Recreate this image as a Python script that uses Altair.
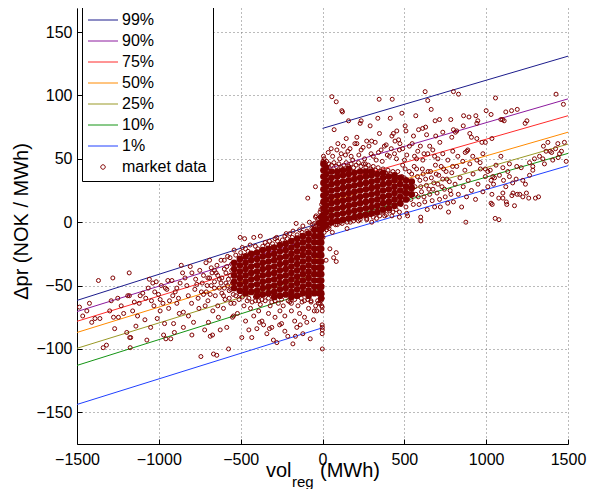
import altair as alt
import pandas as pd

FONT = "Liberation Sans"

# ---------------- quantile regression lines ----------------
quantiles = ["99%", "90%", "75%", "50%", "25%", "10%", "1%"]
line_colors = ["#1c1c8c", "#8c1a9e", "#ff2a2a", "#ff8a00", "#999926", "#149414", "#2040ff"]
left_start = [-61.7, -70.5, -78.2, -87.0, -99.5, -113.0, -143.8]   # at vol = -1500
left_end = [0.0, -10.5, -18.5, -27.0, -39.5, -52.0, -83.3]         # at vol = 0-
right_start = [74.0, 41.0, 28.5, 15.0, 6.0, -2.0, -12.0]           # at vol = 0+
right_end = [131.0, 97.3, 84.0, 71.0, 61.6, 54.3, 44.6]            # at vol = 1500

# ---------------- market data ----------------
left_tail = [(-1485, -67), (-1465, -74), (-1440, -70), (-1424, -64), (-1410, -79), (-1390, -76),
             (-1369, -46), (-1360, -76), (-1340, -99), (-1320, -97), (-1300, -70), (-1291, -62),
             (-1281, -44), (-1277, -75), (-1270, -84), (-1251, -60), (-1247, -75), (-1230, -66),
             (-1215, -72), (-1196, -87), (-1190, -58), (-1181, -40), (-1180, -58), (-1178, -91),
             (-1175, -99), (-1172, -91), (-1160, -70), (-1150, -63), (-1140, -82), (-1130, -74),
             (-1120, -64), (-1114, -58), (-1098, -56), (-1085, -77), (-1080, -60), (-1073, -93),
             (-1065, -52), (-1058, -45), (-1050, -83), (-1045, -62), (-1037, -48), (-1030, -66),
             (-1025, -55), (-1016, -47), (-1010, -76), (-1002, -57), (-992, -61), (-992, -70),
             (-985, -50), (-975, -64), (-971, -89), (-965, -80), (-960, -52), (-957, -92),
             (-951, -53), (-945, -46), (-940, -68), (-935, -62), (-927, -92), (-920, -46),
             (-915, -58), (-910, -80), (-905, -87), (-900, -55), (-890, -52), (-890, -64),
             (-880, -60), (-875, -72), (-870, -48), (-863, -34), (-855, -40), (-850, -71), (-850, -83)]

left_mid = [(-840, -44), (-829, -50), (-820, -58), (-819, -74), (-808, -35), (-800, -64), (-798, -40),
            (-798, -89), (-788, -79), (-780, -53), (-775, -45), (-768, -49), (-760, -60), (-755, -68),
            (-750, -38), (-743, -106), (-740, -55), (-735, -48), (-727, -42), (-727, -57), (-720, -85),
            (-717, -66), (-712, -32), (-705, -50), (-700, -62), (-697, -79), (-690, -44), (-686, -57),
            (-686, -90), (-680, -36), (-672, -89), (-670, -70), (-666, -104), (-660, -47), (-655, -58),
            (-650, -40), (-646, -105), (-640, -66), (-636, -75), (-630, -52), (-625, -85), (-620, -30),
            (-615, -44), (-605, -68), (-605, -58), (-600, -37), (-595, -61), (-590, -48), (-585, -83),
            (-580, -27), (-574, -100), (-570, -54), (-565, -42), (-560, -64), (-555, -33), (-550, -75),
            (-544, -74), (-540, -22), (-503, -12), (-490, -20), (-476, -13), (-442, -18), (-420, -12),
            (-380, -11), (-324, -15), (-280, -12), (-222, -9), (-180, -7), (-161, -1), (-120, -3),
            (-90, 19), (-80, 0), (-60, -2), (-43, 28), (-43, 4), (-39, 5), (-30, 2), (-15, 8)]

left_fringe = [(-530, -26), (-500, -24), (-485, -27), (-470, -21), (-455, -23), (-425, -25),
               (-410, -19), (-395, -21), (-365, -19), (-350, -16), (-335, -18), (-305, -17),
               (-290, -13), (-275, -15), (-245, -14), (-230, -11), (-215, -13), (-200, -9),
               (-185, -12), (-155, -10), (-140, -6), (-125, -8), (-95, -7), (-65, -5), (-50, -1),
               (-35, -2), (-25, 3), (-10, 10), (-5, 14),
               (-530, -58), (-510, -61), (-490, -59), (-450, -60), (-430, -63), (-410, -59),
               (-390, -62), (-370, -61), (-330, -60), (-310, -63), (-290, -62), (-250, -61),
               (-210, -62), (-190, -64), (-170, -61), (-130, -60), (-110, -62), (-90, -61),
               (-70, -63), (-30, -62), (-15, -64), (-5, -66),
               (-690, -30), (-675, -40), (-660, -52), (-645, -34), (-630, -45), (-615, -56),
               (-600, -30), (-590, -40), (-580, -50), (-570, -60), (-565, -28), (-555, -38),
               (-550, -48), (-545, -57), (-620, -48), (-640, -42), (-660, -38), (-680, -50),
               (-700, -44), (-710, -55), (-600, -52), (-585, -35), (-575, -45), (-560, -53)]

left_low = [(-540, -64), (-520, -72), (-503, -57), (-493, -91), (-480, -66), (-470, -78), (-460, -62),
            (-450, -85), (-440, -68), (-432, -91), (-420, -74), (-410, -62), (-401, -84), (-390, -70),
            (-385, -79), (-380, -65), (-370, -78), (-360, -81), (-350, -62), (-340, -88), (-330, -72),
            (-324, -84), (-320, -66), (-310, -83), (-300, -93), (-290, -75), (-279, -95), (-270, -64),
            (-262, -81), (-260, -70), (-250, -80), (-240, -66), (-230, -86), (-230, -74), (-212, -90),
            (-200, -63), (-190, -70), (-181, -96), (-170, -78), (-165, -90), (-157, -83), (-150, -66),
            (-140, -72), (-136, -81), (-125, -63), (-120, -88), (-110, -75), (-96, -79), (-85, -68),
            (-75, -92), (-70, -62), (-55, -77), (-50, -70), (-42, -66), (-35, -70), (-25, -64),
            (-12, -62), (-4, -50), (-3, -57), (-3, -60), (-2, -67), (-2, -70), (-2, -81), (-1, -83),
            (-1, -85), (-2, -88), (-1, -100)]

right_near = [(3, -12), (10, -8), (25, -6), (40, -5), (22, -30), (45, -21), (68, -28), (84, -24),
              (84, -31), (3, 48), (6, 52), (15, 47), (40, -3), (60, -8), (80, -2), (120, -1),
              (150, -5), (170, 0), (220, 1), (270, 2), (301, 0), (330, 3), (380, 5), (424, 5),
              (470, 4), (515, 7), (601, 1), (876, 0)]

right_fringe = [(10, 50), (25, 48), (40, 46), (55, 45), (70, 47), (85, 44), (100, 46), (115, 43),
                (130, 45), (145, 47), (160, 44), (175, 46), (190, 43), (205, 45), (220, 47),
                (235, 44), (250, 46), (265, 43), (280, 45), (295, 42), (310, 44), (325, 41),
                (340, 43), (355, 40), (370, 42), (385, 39), (400, 41), (415, 38), (430, 40),
                (30, -4), (50, -1), (70, 1), (90, -2), (110, 0), (130, 2), (150, 0), (170, 3),
                (190, 1), (210, 4), (230, 2), (250, 5), (270, 3), (290, 6), (310, 4), (330, 7),
                (350, 5), (370, 8), (390, 6), (410, 9), (430, 8), (450, 10),
                (480, 14), (485, 36), (495, 24), (505, 42), (515, 18), (525, 31), (535, 22),
                (545, 38), (555, 14), (565, 28), (575, 42), (585, 20), (595, 33), (605, 24),
                (615, 38), (625, 16), (635, 29), (645, 40), (655, 22), (665, 35), (675, 26),
                (685, 12), (695, 38), (705, 30), (715, 18), (725, 44), (735, 34), (745, 26),
                (755, 40), (765, 15), (775, 32), (785, 22), (795, 44)]

right_upper = [(57, 99), (84, 95), (118, 88), (122, 87), (159, 80), (71, 73), (346, 97), (426, 97),
               (627, 103), (643, 96), (831, 101), (800, 103), (485, 86), (570, 84), (664, 89),
               (414, 82), (338, 82), (236, 80), (230, 78), (291, 76), (862, 84), (895, 83), (937, 84),
               (943, 78), (800, 73), (812, 71), (735, 71), (630, 75), (612, 74), (587, 73), (505, 76),
               (510, 72), (454, 72), (424, 68), (556, 68), (688, 80), (784, 81), (715, 81), (949, 80),
               (910, 67), (943, 66), (145, 66), (210, 67), (210, 62), (270, 64), (300, 64), (348, 70),
               (433, 70), (443, 64), (473, 62), (636, 69), (692, 68), (717, 63), (790, 67), (820, 72),
               (860, 76), (900, 70), (53, 58), (94, 62), (114, 54), (155, 56), (175, 52), (236, 57),
               (257, 50), (297, 54), (328, 49), (358, 57), (389, 61), (409, 52), (440, 54), (470, 57),
               (501, 49), (531, 60), (562, 52), (582, 56), (613, 49), (643, 54), (674, 57), (705, 50),
               (735, 54), (766, 49), (796, 56), (827, 52), (857, 48), (888, 57), (918, 52), (980, 54),
               (872, 55), (882, 56), (943, 49), (963, 47), (974, 63), (995, 63),
               (35, 55), (62, 52), (88, 57), (105, 50), (128, 60), (140, 53), (168, 58), (185, 49),
               (198, 62), (222, 53), (248, 59), (262, 46), (284, 60), (310, 52), (322, 63), (342, 55),
               (365, 48), (378, 60), (396, 53), (420, 58), (452, 50), (465, 65), (490, 58), (515, 53),
               (548, 62), (575, 50), (598, 60), (620, 54), (655, 60), (685, 52)]

right_mid = [(460, 40), (470, 30), (480, 20), (490, 45), (500, 35), (510, 12), (520, 25), (530, 40),
             (540, 18), (550, 32), (560, 44), (570, 22), (580, 36), (590, 14), (600, 28), (610, 42),
             (620, 20), (630, 34), (640, 10), (650, 26), (660, 40), (670, 17), (680, 31), (690, 45),
             (700, 23), (710, 37), (720, 12), (730, 28), (740, 42), (750, 20), (760, 34), (770, 8),
             (780, 25), (790, 39), (800, 16), (810, 30), (820, 44), (830, 22), (840, 35), (850, 12),
             (860, 28), (870, 41), (880, 20), (890, 33), (900, 46), (910, 25), (920, 38), (935, 18),
             (950, 30), (965, 42), (980, 24), (995, 36), (1010, 28), (470, 8), (520, 5), (600, 4)]

right_tail = [(1057, 98), (1000, 88), (1030, 85), (1120, 87), (1155, 88), (1190, 89), (1238, 78),
              (1100, 81), (1110, 80), (1427, 101), (1472, 93), (1249, 80), (1090, 81), (1035, 66),
              (995, 42), (1010, 40), (1025, 41), (1041, 36), (1045, 30), (1035, 22), (1030, 15),
              (1055, 3), (1078, 2), (1102, 19), (1126, 14), (1157, 21), (1173, 13), (1190, 22),
              (1224, 20), (1320, 20), (1037, 14), (1077, 19), (1102, 23), (1123, 16), (1164, 23),
              (1205, 22), (1246, 23), (1301, 19), (1377, 63), (1366, 56), (1391, 56), (1424, 58),
              (1438, 62), (1478, 63), (1326, 52), (1346, 50), (1295, 50), (1265, 47), (1285, 44),
              (1214, 43), (1187, 44), (1142, 46), (1132, 40), (1102, 43), (1081, 37), (1051, 35),
              (1030, 33), (1106, 33), (1142, 36), (1183, 34), (1224, 33), (1265, 37), (1162, 31),
              (1285, 41), (1356, 46), (1407, 49), (1448, 54), (1489, 48), (1260, 19), (1440, 51),
              (1460, 56), (1350, 60), (1400, 55), (1240, 30), (1120, 28), (1060, 45), (1090, 52)]

# dense cores: vol -> list of price differences (overlapping markers form a solid cloud)
core_left = {-540: [-32, -37, -42, -47, -52], -505: [-29, -34, -39, -44, -49, -54],
             -470: [-27, -32, -37, -42, -47, -52, -56], -435: [-25, -30, -35, -40, -45, -50, -55],
             -400: [-24, -29, -34, -39, -44, -49, -54, -58], -365: [-22, -27, -32, -37, -42, -47, -52, -57],
             -330: [-21, -26, -31, -36, -41, -46, -51, -56], -295: [-20, -25, -30, -35, -40, -45, -50, -55, -59],
             -260: [-18, -23, -28, -33, -38, -43, -48, -53, -58], -225: [-17, -22, -27, -32, -37, -42, -47, -52, -57],
             -190: [-15, -20, -25, -30, -35, -40, -45, -50, -55, -59],
             -155: [-13, -18, -23, -28, -33, -38, -43, -48, -53, -58],
             -120: [-11, -16, -21, -26, -31, -36, -41, -46, -51, -56],
             -85: [-9, -14, -19, -24, -29, -34, -39, -44, -49, -54, -58],
             -50: [-6, -11, -16, -21, -26, -31, -36, -41, -46, -51, -56],
             -20: [-1, -6, -11, -16, -21, -26, -31, -36, -41, -46, -51, -56],
             -8: [4, -1, -6, -11, -16, -21, -26, -31, -36, -41, -46, -51, -56, -60]}
core_right = {6: [-4, 1, 6, 11, 16, 21, 26, 31, 36, 41, 46], 22: [-2, 3, 8, 13, 18, 23, 28, 33, 38, 43],
              55: [0, 5, 10, 15, 20, 25, 30, 35, 40], 90: [1, 6, 11, 16, 21, 26, 31, 36, 40],
              125: [2, 7, 12, 17, 22, 27, 32, 37, 41], 160: [3, 8, 13, 18, 23, 28, 33, 38, 42],
              195: [4, 9, 14, 19, 24, 29, 34, 39], 230: [5, 10, 15, 20, 25, 30, 35, 40],
              265: [6, 11, 16, 21, 26, 31, 36, 40], 300: [7, 12, 17, 22, 27, 32, 37, 40],
              335: [8, 13, 18, 23, 28, 33, 38], 370: [10, 15, 20, 25, 30, 35, 39],
              405: [11, 16, 21, 26, 31, 36], 440: [13, 18, 23, 28, 33, 37], 475: [15, 20, 25, 30, 35],
              510: [18, 23, 28, 33], 545: [22, 27, 32]}

x_ticks = [-1500, -1000, -500, 0, 500, 1000, 1500]
y_ticks = [-150, -100, -50, 0, 50, 100, 150]

# ---------------- tables ----------------
rows = []
for q, ls, le, rs, re in zip(quantiles, left_start, left_end, right_start, right_end):
    rows += [{"series": q, "seg": q + "L", "vol": -1500, "dpr": ls},
             {"series": q, "seg": q + "L", "vol": 0, "dpr": le},
             {"series": q, "seg": q + "R", "vol": 0, "dpr": rs},
             {"series": q, "seg": q + "R", "vol": 1500, "dpr": re}]
lines_df = pd.DataFrame(rows)

scatter = (left_tail + left_mid + left_fringe + left_low + right_near + right_fringe
           + right_upper + right_mid + right_tail)
pts_df = pd.DataFrame({"vol": [p[0] for p in scatter], "dpr": [p[1] for p in scatter],
                       "series": "market data"})
core = [(x, y) for d in (core_left, core_right) for x, ys in d.items() for y in ys]
core_df = pd.DataFrame({"vol": [p[0] for p in core], "dpr": [p[1] for p in core]})

domain = quantiles + ["market data"]
colors = line_colors + ["#800000"]

W, H = 491, 436
xscale = alt.Scale(domain=[-1500, 1500], nice=False, zero=False)
yscale = alt.Scale(domain=[-175, 169], nice=False, zero=False)

axis_common = dict(grid=True, gridDash=[1, 3], gridColor="#777777", gridWidth=1, ticks=False,
                   labelFont=FONT, labelFontSize=16, labelColor="black", domainColor="black",
                   domainWidth=1, format="d")
xaxis = alt.Axis(values=x_ticks, title=None, labelPadding=7, labelFlush=False, **axis_common)
yaxis = alt.Axis(values=y_ticks, title="\u0394pr (NOK / MWh)", titleFont=FONT, titleFontSize=20,
                 titleFontWeight="normal", titleColor="black", titleX=-56, titleY=213,
                 titleAngle=270, titleAlign="center", titleBaseline="middle",
                 labelPadding=5, **axis_common)

# inward-pointing tick marks: mirrored axes moved onto the left/bottom edges
tick_common = dict(labels=False, domain=False, grid=False, ticks=True, tickSize=5,
                   tickColor="black", tickWidth=1, title=None)
xticks_in = alt.Axis(orient="top", offset=-H, values=x_ticks, **tick_common)
yticks_in = alt.Axis(orient="right", offset=-W, values=y_ticks, **tick_common)

# symbol shapes in the unit box (scaled by sqrt(symbolSize)/2 = 5 px)
line_path = "M -3,0 H 3"
circle_path = "M -0.45,0 A 0.45,0.45 0 1,0 0.45,0 A 0.45,0.45 0 1,0 -0.45,0 Z"
legend = alt.Legend(
    title=None, orient="none", legendX=5, legendY=-2, direction="vertical",
    strokeColor="black", fillColor="white", padding=6, cornerRadius=0,
    labelFont=FONT, labelFontSize=16, labelColor="black", labelLimit=200,
    symbolType=alt.ExprRef(expr="datum.value === 'market data' ? '" + circle_path + "' : '" + line_path + "'"),
    symbolSize=100, symbolStrokeWidth=1, symbolFillColor="transparent", rowPadding=5,
    symbolOffset=7, labelOffset=11,
)
color = alt.Color("series:N", scale=alt.Scale(domain=domain, range=colors), legend=legend)

lines = alt.Chart(lines_df).mark_line(strokeWidth=1, clip=True).encode(
    x=alt.X("vol:Q", scale=xscale, axis=xaxis),
    y=alt.Y("dpr:Q", scale=yscale, axis=yaxis),
    color=color, detail="seg:N")

tick_layer = alt.Chart(lines_df).mark_point(opacity=0).encode(
    x=alt.X("vol:Q", scale=xscale, axis=xticks_in),
    y=alt.Y("dpr:Q", scale=yscale, axis=yticks_in))

core_layer = alt.Chart(core_df).mark_point(filled=True, size=45, color="#800000", opacity=1).encode(
    x=alt.X("vol:Q", scale=xscale, axis=None), y=alt.Y("dpr:Q", scale=yscale, axis=None))

pts = alt.Chart(pts_df).mark_point(filled=False, size=16, strokeWidth=1, opacity=1).encode(
    x=alt.X("vol:Q", scale=xscale, axis=None), y=alt.Y("dpr:Q", scale=yscale, axis=None),
    color=color)

title_df = pd.DataFrame({"t": ["vol"]})
t1 = alt.Chart(title_df).mark_text(font=FONT, fontSize=20, align="left", baseline="alphabetic",
                                   color="black").encode(x=alt.value(189), y=alt.value(469),
                                                         text=alt.value("vol"))
t2 = alt.Chart(title_df).mark_text(font=FONT, fontSize=15, align="left", baseline="alphabetic",
                                   color="black").encode(x=alt.value(215), y=alt.value(479),
                                                         text=alt.value("reg"))
t3 = alt.Chart(title_df).mark_text(font=FONT, fontSize=20, align="left", baseline="alphabetic",
                                   color="black").encode(x=alt.value(243), y=alt.value(469),
                                                         text=alt.value("(MWh)"))

chart = alt.layer(lines, tick_layer, core_layer, pts, t1, t2, t3).resolve_axis(
    x="independent", y="independent"
).properties(
    width=W, height=H,
    padding={"left": 69, "top": 0, "right": 24, "bottom": 45},
    autosize=alt.AutoSizeParams(type="none"),
).configure_view(strokeWidth=0)

chart.save("out.html", embed_options={"renderer": "svg", "actions": False})
